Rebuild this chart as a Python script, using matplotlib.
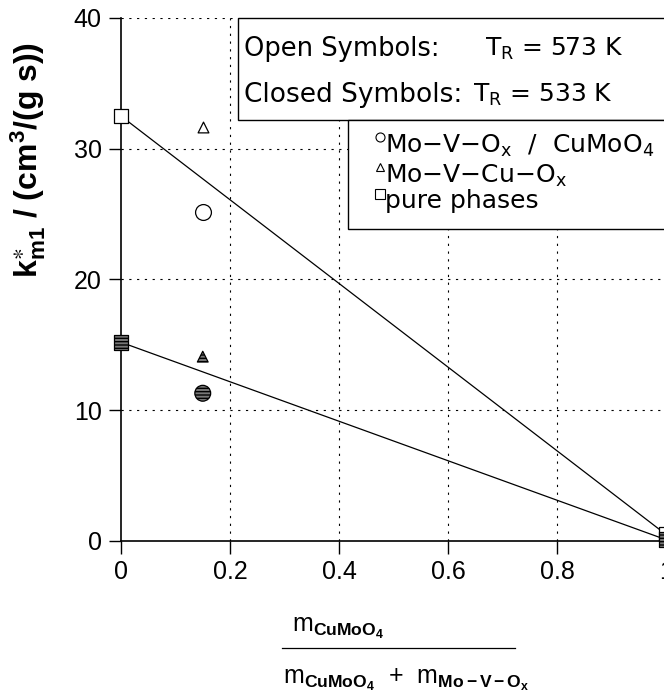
import matplotlib
matplotlib.use("Agg")
import matplotlib.pyplot as plt
from matplotlib.lines import Line2D
from matplotlib.patches import Rectangle

plt.rcParams['font.family'] = ['Liberation Sans', 'DejaVu Sans']
plt.rcParams['mathtext.default'] = 'regular'
plt.rcParams['mathtext.fontset'] = 'custom'
plt.rcParams['mathtext.rm'] = 'Liberation Sans'
plt.rcParams['mathtext.bf'] = 'Liberation Sans:bold'
plt.rcParams['mathtext.it'] = 'Liberation Sans:italic'
plt.rcParams['hatch.linewidth'] = 1.0

# ---- data ----
x_pure = [0.0, 1.0]
open_pure = [32.5, 0.5]
closed_pure = [15.2, 0.1]
x_mix = [0.15]
open_circle = [25.2]
open_triangle = [31.7]
closed_circle = [11.3]
closed_triangle = [14.1]
xticks = [0, 0.2, 0.4, 0.6, 0.8, 1.0]
xticklabels = ['0', '0.2', '0.4', '0.6', '0.8', '1']
yticks = [0, 10, 20, 30, 40]

W, H = 664, 695
fig = plt.figure(figsize=(W / 100, H / 100), dpi=100)
ax = fig.add_axes([121 / W, 1 - 541 / H, 545 / W, (541 - 18) / H])
ax.set_xlim(0, 1)
ax.set_ylim(0, 40)

grid_style = dict(color='black', lw=0.8, ls=(0, (2, 5)), zorder=1)
for gx in [0.2, 0.4, 0.6, 0.8]:
    ax.axvline(gx, **grid_style)
for gy in [10, 20, 30, 40]:
    ax.axhline(gy, **grid_style)

for s in ['top', 'right']:
    ax.spines[s].set_visible(False)
for s in ['left', 'bottom']:
    ax.spines[s].set_linewidth(1.2)
    ax.spines[s].set_zorder(2)

ax.set_xticks(xticks)
ax.set_xticklabels(xticklabels)
ax.set_yticks(yticks)
ax.tick_params(direction='out', length=9, width=1.0, labelsize=18, pad=5)

# fit lines
ax.plot(x_pure, open_pure, color='black', lw=0.9, zorder=3)
ax.plot(x_pure, closed_pure, color='black', lw=0.9, zorder=3)

# open symbols
ax.scatter(x_pure, open_pure, marker='s', s=110, facecolors='white', edgecolors='black',
           linewidths=0.9, zorder=4, clip_on=False)
ax.scatter(x_mix, open_circle, marker='o', s=130, facecolors='white', edgecolors='black',
           linewidths=0.9, zorder=4, clip_on=False)
ax.scatter(x_mix, open_triangle, marker='^', s=60, facecolors='white', edgecolors='black',
           linewidths=0.9, zorder=4, clip_on=False)
# closed symbols
ax.scatter(x_pure, closed_pure, marker='s', s=110, facecolors='#777777', edgecolors='black',
           hatch='-----', linewidths=0.9, zorder=5, clip_on=False)
ax.scatter(x_mix, closed_circle, marker='o', s=130, facecolors='#777777', edgecolors='black',
           hatch='-----', linewidths=0.9, zorder=5, clip_on=False)
ax.scatter(x_mix, closed_triangle, marker='^', s=60, facecolors='#777777', edgecolors='black',
           hatch='-----', linewidths=0.9, zorder=5, clip_on=False)

# legend boxes (figure pixel coords)
def fx(px):
    return px / W

def fy(py):
    return 1 - py / H

box1 = Rectangle((fx(238), fy(120)), fx(700) - fx(238), fy(18) - fy(120), transform=fig.transFigure,
                 facecolor='white', edgecolor='black', lw=1.0, zorder=10)
box2 = Rectangle((fx(348), fy(229)), fx(700) - fx(348), fy(120) - fy(229), transform=fig.transFigure,
                 facecolor='white', edgecolor='black', lw=1.0, zorder=10)
fig.patches.extend([box1, box2])

lg = dict(fontsize=18, va='baseline', ha='left', family='DejaVu Sans', zorder=11)
fig.text(fx(244), fy(56), 'Open Symbols:', **dict(lg, fontsize=18.5))
fig.text(fx(485), fy(56), 'T$_R$ = 573 K', **lg)
fig.text(fx(244), fy(102), 'Closed Symbols:', **dict(lg, fontsize=19))
fig.text(fx(473), fy(102), 'T$_R$ = 533 K', **lg)

leg_items = [('o', 'Mo\u2212V\u2212O$_x$  /  CuMoO$_4$', 153, 137),
             ('^', 'Mo\u2212V\u2212Cu\u2212O$_x$', 183, 167),
             ('s', 'pure phases', 208, 194)]
for mk, label, py, my in leg_items:
    fig.lines.append(Line2D([fx(380)], [fy(my)], marker=mk, markersize=6.5 if mk != '^' else 5.5,
                            markerfacecolor='white', markeredgecolor='black', markeredgewidth=0.8,
                            linestyle='none', transform=fig.transFigure, zorder=11))
    fig.text(fx(385), fy(py), label, **lg)

# y label
fig.text(fx(28), fy(160), r'k$^{\ast}_{m1}$ / (cm$^3$/(g s))', rotation=90, fontsize=23,
         fontweight='bold', va='center', ha='center')

# x label as fraction
fig.text(fx(292), fy(632), r'm$_{\mathbf{CuMoO_4}}$', fontsize=18, va='baseline', ha='left')
fig.lines.append(Line2D([fx(282), fx(515)], [fy(648), fy(648)], color='black', lw=0.9,
                        transform=fig.transFigure))
fig.text(fx(283), fy(684), 'm$_{\\mathbf{CuMoO_4}}$  +  m$_{\\mathbf{Mo\u2212V\u2212O_x}}$', fontsize=18,
         va='baseline', ha='left')

fig.savefig('out.png', dpi=100)
